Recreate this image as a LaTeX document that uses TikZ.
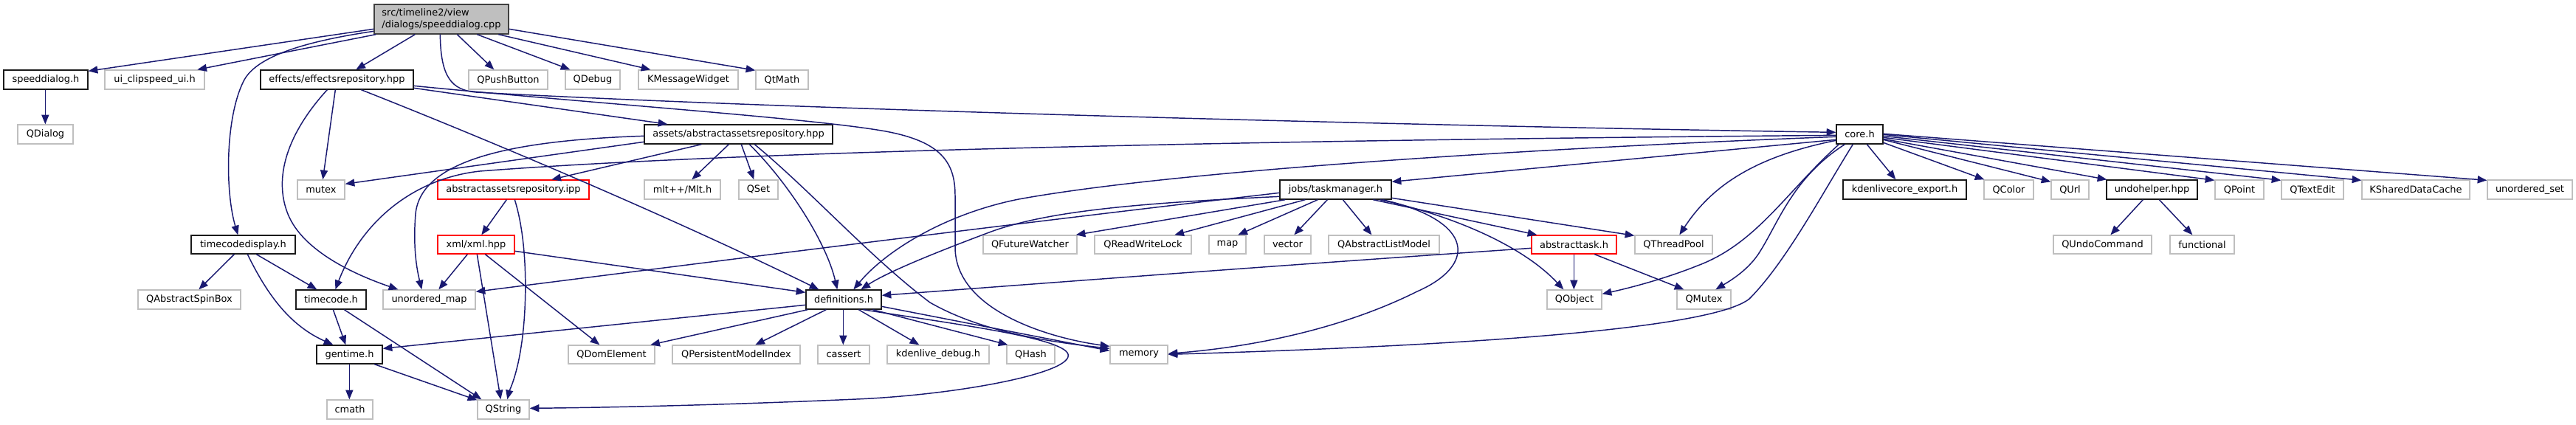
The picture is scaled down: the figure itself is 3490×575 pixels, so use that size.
\documentclass[tikz,border=0pt]{standalone}
\usepackage{fontspec}
\usetikzlibrary{arrows.meta,calc}
\newfontfamily\dvs{DejaVu Sans}
\definecolor{edgec}{HTML}{191970}
\definecolor{extc}{HTML}{BFBFBF}
\definecolor{docc}{HTML}{1A1A1A}
\definecolor{mainfill}{HTML}{BFBFBF}
\definecolor{mainline}{HTML}{404040}
\definecolor{truncc}{HTML}{FF0000}
\newcommand{\mknode}[7]{%
  \pgfmathsetmacro{\ndw}{(#5-#3)*0.75}%
  \pgfmathsetmacro{\ndh}{(#6-#4)*0.75}%
  \node[#1, minimum width=\ndw pt, minimum height=\ndh pt] (#2) at ({(#3+#5)/2},{(#4+#6)/2}) {#7};%
}
\tikzset{
  nb/.style={rectangle, inner sep=0pt, line width=1pt, text=black, font={\dvs\fontsize{9.7}{12.4}\selectfont}},
  doc/.style={nb, draw=docc},
  ext/.style={nb, draw=extc},
  trunc/.style={nb, draw=truncc},
  mainbox/.style={nb, draw=mainline, fill=mainfill, align=left},
  dep/.style={draw=edgec, line width=1.1pt, -{Triangle[length=9.5pt,width=7.5pt]}, fill=none},
}
\begin{document}
\begin{tikzpicture}[x=0.75pt, y=-0.75pt]
\useasboundingbox (0,0) rectangle (3490,575);
% ---- nodes ----
\mknode{mainbox}{main}{507}{6}{689}{46}{src/timeline2/view\\/dialogs/speeddialog.cpp}
\mknode{doc}{spd}{5}{95}{119}{121}{speeddialog.h}
\mknode{ext}{uicl}{142}{95}{277}{121}{ui\_clipspeed\_ui.h}
\mknode{doc}{eff}{353}{95}{560}{121}{effects/effectsrepository.hpp}
\mknode{ext}{qpb}{635}{95}{742}{121}{QPushButton}
\mknode{ext}{qdbg}{766}{95}{840}{121}{QDebug}
\mknode{ext}{kmw}{865}{95}{1000}{121}{KMessageWidget}
\mknode{ext}{qtm}{1024}{95}{1095}{121}{QtMath}
\mknode{ext}{qdlg}{24}{169}{99}{195}{QDialog}
\mknode{doc}{ass}{873}{169}{1128}{195}{assets/abstractassetsrepository.hpp}
\mknode{doc}{core}{2488}{169}{2551}{195}{core.h}
\mknode{ext}{mtx}{403}{244}{467}{270}{mutex}
\mknode{trunc}{ipp}{593}{244}{798}{270}{abstractassetsrepository.ipp}
\mknode{ext}{mlt}{873}{244}{976}{270}{mlt++/Mlt.h}
\mknode{ext}{qset}{1001}{244}{1054}{270}{QSet}
\mknode{doc}{tm}{1734}{244}{1885}{270}{jobs/taskmanager.h}
\mknode{doc}{kce}{2497}{244}{2664}{270}{kdenlivecore\_export.h}
\mknode{ext}{qcol}{2688}{244}{2755}{270}{QColor}
\mknode{ext}{qurl}{2779}{244}{2830}{270}{QUrl}
\mknode{doc}{undo}{2854}{244}{2977}{270}{undohelper.hpp}
\mknode{ext}{qpt}{3001}{244}{3067}{270}{QPoint}
\mknode{ext}{qte}{3091}{244}{3175}{270}{QTextEdit}
\mknode{ext}{ksdc}{3200}{244}{3346}{270}{KSharedDataCache}
\mknode{ext}{uset}{3370}{244}{3485}{270}{unordered\_set}
\mknode{doc}{tcd}{259}{319}{400}{344}{timecodedisplay.h}
\mknode{trunc}{xml}{593}{319}{697}{344}{xml/xml.hpp}
\mknode{ext}{qfw}{1332}{319}{1459}{344}{QFutureWatcher}
\mknode{ext}{qrwl}{1483}{319}{1614}{344}{QReadWriteLock}
\mknode{ext}{nmap}{1638}{319}{1688}{344}{map}
\mknode{ext}{vec}{1713}{319}{1776}{344}{vector}
\mknode{ext}{qalm}{1800}{319}{1950}{344}{QAbstractListModel}
\mknode{trunc}{atask}{2075}{319}{2190}{344}{abstracttask.h}
\mknode{ext}{qtp}{2215}{319}{2320}{344}{QThreadPool}
\mknode{ext}{quc}{2782}{319}{2915}{344}{QUndoCommand}
\mknode{ext}{func}{2940}{319}{3027}{344}{functional}
\mknode{ext}{qasb}{187}{393}{326}{419}{QAbstractSpinBox}
\mknode{doc}{tc}{401}{393}{496}{419}{timecode.h}
\mknode{ext}{umap}{519}{393}{644}{419}{unordered\_map}
\mknode{doc}{defs}{1092}{393}{1194}{419}{definitions.h}
\mknode{ext}{qobj}{2096}{393}{2170}{419}{QObject}
\mknode{ext}{qmtx}{2272}{393}{2345}{419}{QMutex}
\mknode{doc}{gent}{429}{468}{518}{493}{gentime.h}
\mknode{ext}{qdom}{770}{468}{887}{493}{QDomElement}
\mknode{ext}{qpmi}{911}{468}{1084}{493}{QPersistentModelIndex}
\mknode{ext}{cass}{1108}{468}{1178}{493}{cassert}
\mknode{ext}{kdbg}{1202}{468}{1340}{493}{kdenlive\_debug.h}
\mknode{ext}{qhash}{1364}{468}{1429}{493}{QHash}
\mknode{ext}{mem}{1504}{468}{1582}{493}{memory}
\mknode{ext}{cmath}{443}{542}{505}{568}{cmath}
\mknode{ext}{qstr}{647}{542}{717}{568}{QString}
% ---- edges from main ----
\draw[dep] ($(main.north west)+(0,34)$) -- ($(spd.north east)+(0,2)$);
\draw[dep] ($(main.south west)+(3,0)$) -- ($(uicl.north west)+(126,0)$);
\draw[dep] ($(main.north west)+(0,37)$) .. controls (400,58) and (345,80) .. (330,110) .. controls (305,160) and (305,260) .. ($(tcd.north west)+(64,0)$);
\draw[dep] ($(main.south west)+(56,0)$) -- ($(eff.north west)+(130,0)$);
\draw[dep] ($(main.south west)+(113,0)$) -- ($(qpb.north west)+(35,0)$);
\draw[dep] ($(main.south west)+(140,0)$) -- ($(qdbg.north west)+(7,0)$);
\draw[dep] ($(main.south west)+(169,0)$) -- ($(kmw.north west)+(17,0)$);
\draw[dep] ($(main.north east)+(0,34)$) -- ($(qtm.north west)+(0,1)$);
\draw[dep] ($(main.south west)+(90,0)$) .. controls (597,105) and (612,122) .. (645,125) .. controls (1100,150) and (2000,172) .. ($(core.north west)+(0,11)$);
% ---- speeddialog.h ----
\draw[dep] ($(spd.south west)+(57,0)$) -- ($(qdlg.north west)+(38,0)$);
% ---- effects ----
\draw[dep] ($(eff.north east)+(0,25)$) -- ($(ass.north west)+(32,0)$);
\draw[dep] ($(eff.north east)+(0,22)$) .. controls (800,140) and (1100,160) .. (1200,178) .. controls (1275,192) and (1294,220) .. (1294,265) -- (1294,335) .. controls (1294,420) and (1420,458) .. ($(mem.north west)+(0,2)$);
\draw[dep] ($(eff.south west)+(137,0)$) .. controls (650,185) and (900,290) .. ($(defs.north west)+(18,0)$);
\draw[dep] ($(eff.south west)+(102,0)$) -- ($(mtx.north west)+(35,0)$);
\draw[dep] ($(eff.south west)+(91,0)$) .. controls (390,180) and (370,240) .. (390,290) .. controls (410,340) and (480,372) .. ($(umap.north west)+(21,0)$);
% ---- assets ----
\draw[dep] ($(ass.south west)+(78,0)$) -- ($(ipp.north west)+(155,0)$);
\draw[dep] ($(ass.south west)+(115,0)$) -- ($(mlt.north west)+(65,0)$);
\draw[dep] ($(ass.south west)+(132,0)$) -- ($(qset.north west)+(21,0)$);
\draw[dep] ($(ass.south west)+(143,0)$) .. controls (1070,250) and (1120,330) .. ($(defs.north west)+(43,0)$);
\draw[dep] ($(ass.south west)+(150,0)$) .. controls (1100,260) and (1180,350) .. (1260,410) .. controls (1330,450) and (1420,463) .. ($(mem.north west)+(0,5)$);
\draw[dep] ($(ass.north west)+(0,24)$) -- ($(mtx.north east)+(0,6)$);
\draw[dep] ($(ass.north west)+(0,16)$) .. controls (700,190) and (570,215) .. (563,290) .. controls (559,340) and (566,370) .. ($(umap.north west)+(53,0)$);
% ---- ipp / xml ----
\draw[dep] ($(ipp.south west)+(94,0)$) -- ($(xml.north west)+(60,0)$);
\draw[dep] ($(ipp.south west)+(105,0)$) .. controls (716,330) and (714,420) .. (706,470) .. controls (700,510) and (690,530) .. ($(qstr.north west)+(41,0)$);
\draw[dep] ($(xml.south west)+(41,0)$) -- ($(umap.north west)+(76,0)$);
\draw[dep] ($(xml.south west)+(54,0)$) -- ($(qstr.north west)+(32,0)$);
\draw[dep] ($(xml.south west)+(65,0)$) -- ($(qdom.north west)+(43,0)$);
\draw[dep] ($(xml.north east)+(0,22)$) -- ($(defs.north west)+(0,4)$);
% ---- timecodedisplay / timecode / gentime ----
\draw[dep] ($(tcd.south west)+(59,0)$) -- ($(qasb.north west)+(83,0)$);
\draw[dep] ($(tcd.south west)+(89,0)$) -- ($(tc.north west)+(29,0)$);
\draw[dep] ($(tcd.south west)+(77,0)$) .. controls (360,395) and (390,440) .. ($(gent.north west)+(23,0)$);
\draw[dep] ($(tc.south west)+(51,0)$) -- ($(gent.north west)+(40,0)$);
\draw[dep] ($(tc.south west)+(66,0)$) -- ($(qstr.north west)+(6,0)$);
\draw[dep] ($(gent.south west)+(45,0)$) -- ($(cmath.north west)+(31,0)$);
\draw[dep] ($(gent.south west)+(79,0)$) -- ($(qstr.north west)+(0,1)$);
% ---- definitions ----
\draw[dep] ($(defs.north west)+(0,21)$) -- ($(gent.north east)+(0,5)$);
\draw[dep] ($(defs.south west)+(3,0)$) -- ($(qdom.north west)+(112,0)$);
\draw[dep] ($(defs.south west)+(28,0)$) -- ($(qpmi.north west)+(113,0)$);
\draw[dep] ($(defs.south west)+(51,0)$) -- ($(cass.north west)+(35,0)$);
\draw[dep] ($(defs.south west)+(72,0)$) -- ($(kdbg.north west)+(44,0)$);
\draw[dep] ($(defs.south west)+(91,0)$) -- ($(qhash.north west)+(2,0)$);
\draw[dep] ($(defs.north east)+(0,23)$) -- ($(mem.north west)+(0,8)$);
\draw[dep] ($(defs.south west)+(78,0)$) .. controls (1300,440) and (1440,458) .. (1447,480) .. controls (1455,505) and (1300,535) .. (1160,541) .. controls (1000,548) and (850,552) .. ($(qstr.north east)+(0,12)$);
% ---- taskmanager ----
\draw[dep] ($(tm.south west)+(8,0)$) -- ($(qfw.north east)+(-2,0)$);
\draw[dep] ($(tm.south west)+(35,0)$) -- ($(qrwl.north west)+(109,0)$);
\draw[dep] ($(tm.south west)+(52,0)$) -- ($(nmap.north west)+(40,0)$);
\draw[dep] ($(tm.south west)+(65,0)$) -- ($(vec.north west)+(41,0)$);
\draw[dep] ($(tm.south west)+(86,0)$) -- ($(qalm.north west)+(59,0)$);
\draw[dep] ($(tm.south west)+(127,0)$) -- ($(atask.north west)+(8,0)$);
\draw[dep] ($(tm.north east)+(0,25)$) -- ($(qtp.north west)+(0,1)$);
\draw[dep] ($(tm.south west)+(136,0)$) .. controls (1960,290) and (2060,330) .. ($(qobj.north west)+(23,0)$);
\draw[dep] ($(tm.south west)+(140,0)$) .. controls (2000,300) and (2000,360) .. (1920,395) .. controls (1820,445) and (1700,470) .. ($(mem.north east)+(0,12)$);
\draw[dep] ($(tm.north west)+(0,23)$) .. controls (1550,275) and (1420,285) .. (1340,315) .. controls (1260,345) and (1200,370) .. ($(defs.north west)+(75,0)$);
\draw[dep] ($(tm.north west)+(0,18)$) .. controls (1400,300) and (1000,350) .. ($(umap.north east)+(0,3)$);
% ---- abstracttask ----
\draw[dep] ($(atask.south west)+(58,0)$) -- ($(qobj.north west)+(37,0)$);
\draw[dep] ($(atask.south west)+(86,0)$) -- ($(qmtx.north west)+(10,0)$);
\draw[dep] ($(atask.north west)+(0,18)$) .. controls (1700,362) and (1400,385) .. ($(defs.north east)+(0,8)$);
% ---- core ----
\draw[dep] ($(core.south west)+(42,0)$) -- ($(kce.north west)+(72,0)$);
\draw[dep] ($(core.north east)+(0,25)$) -- ($(qcol.north west)+(1,0)$);
\draw[dep] ($(core.north east)+(0,21)$) -- ($(qurl.north west)+(0,3)$);
\draw[dep] ($(core.north east)+(0,20)$) -- ($(undo.north west)+(1,0)$);
\draw[dep] ($(core.north east)+(0,18)$) -- ($(qpt.north west)+(0,1)$);
\draw[dep] ($(core.north east)+(0,16)$) -- ($(qte.north west)+(0,1)$);
\draw[dep] ($(core.north east)+(0,14)$) -- ($(ksdc.north west)+(0,1)$);
\draw[dep] ($(core.north east)+(0,13)$) -- ($(uset.north west)+(0,1)$);
\draw[dep] ($(core.north west)+(0,21)$) -- ($(tm.north east)+(0,3)$);
\draw[dep] ($(core.north west)+(0,22)$) .. controls (2380,212) and (2320,250) .. ($(qtp.north west)+(61,0)$);
\draw[dep] ($(core.south west)+(4,0)$) .. controls (2420,260) and (2380,330) .. (2300,360) .. controls (2250,380) and (2200,392) .. ($(qobj.north east)+(0,6)$);
\draw[dep] ($(core.south west)+(12,0)$) .. controls (2430,240) and (2410,300) .. (2385,340) .. controls (2370,365) and (2345,380) .. ($(qmtx.north west)+(53,0)$);
\draw[dep] ($(core.south west)+(23,0)$) .. controls (2470,260) and (2420,355) .. (2370,405) .. controls (2320,445) and (2000,468) .. ($(mem.north east)+(0,13)$);
\draw[dep] ($(core.north west)+(0,17)$) .. controls (2100,200) and (1600,230) .. (1380,270) .. controls (1280,290) and (1200,340) .. ($(defs.north west)+(65,0)$);
\draw[dep] ($(core.north west)+(0,15)$) .. controls (1700,190) and (1000,205) .. (650,232) .. controls (560,242) and (490,300) .. ($(tc.north west)+(54,0)$);
% ---- undohelper ----
\draw[dep] ($(undo.south west)+(50,0)$) -- ($(quc.north west)+(78,0)$);
\draw[dep] ($(undo.south west)+(72,0)$) -- ($(func.north west)+(31,0)$);
\end{tikzpicture}
\end{document}
